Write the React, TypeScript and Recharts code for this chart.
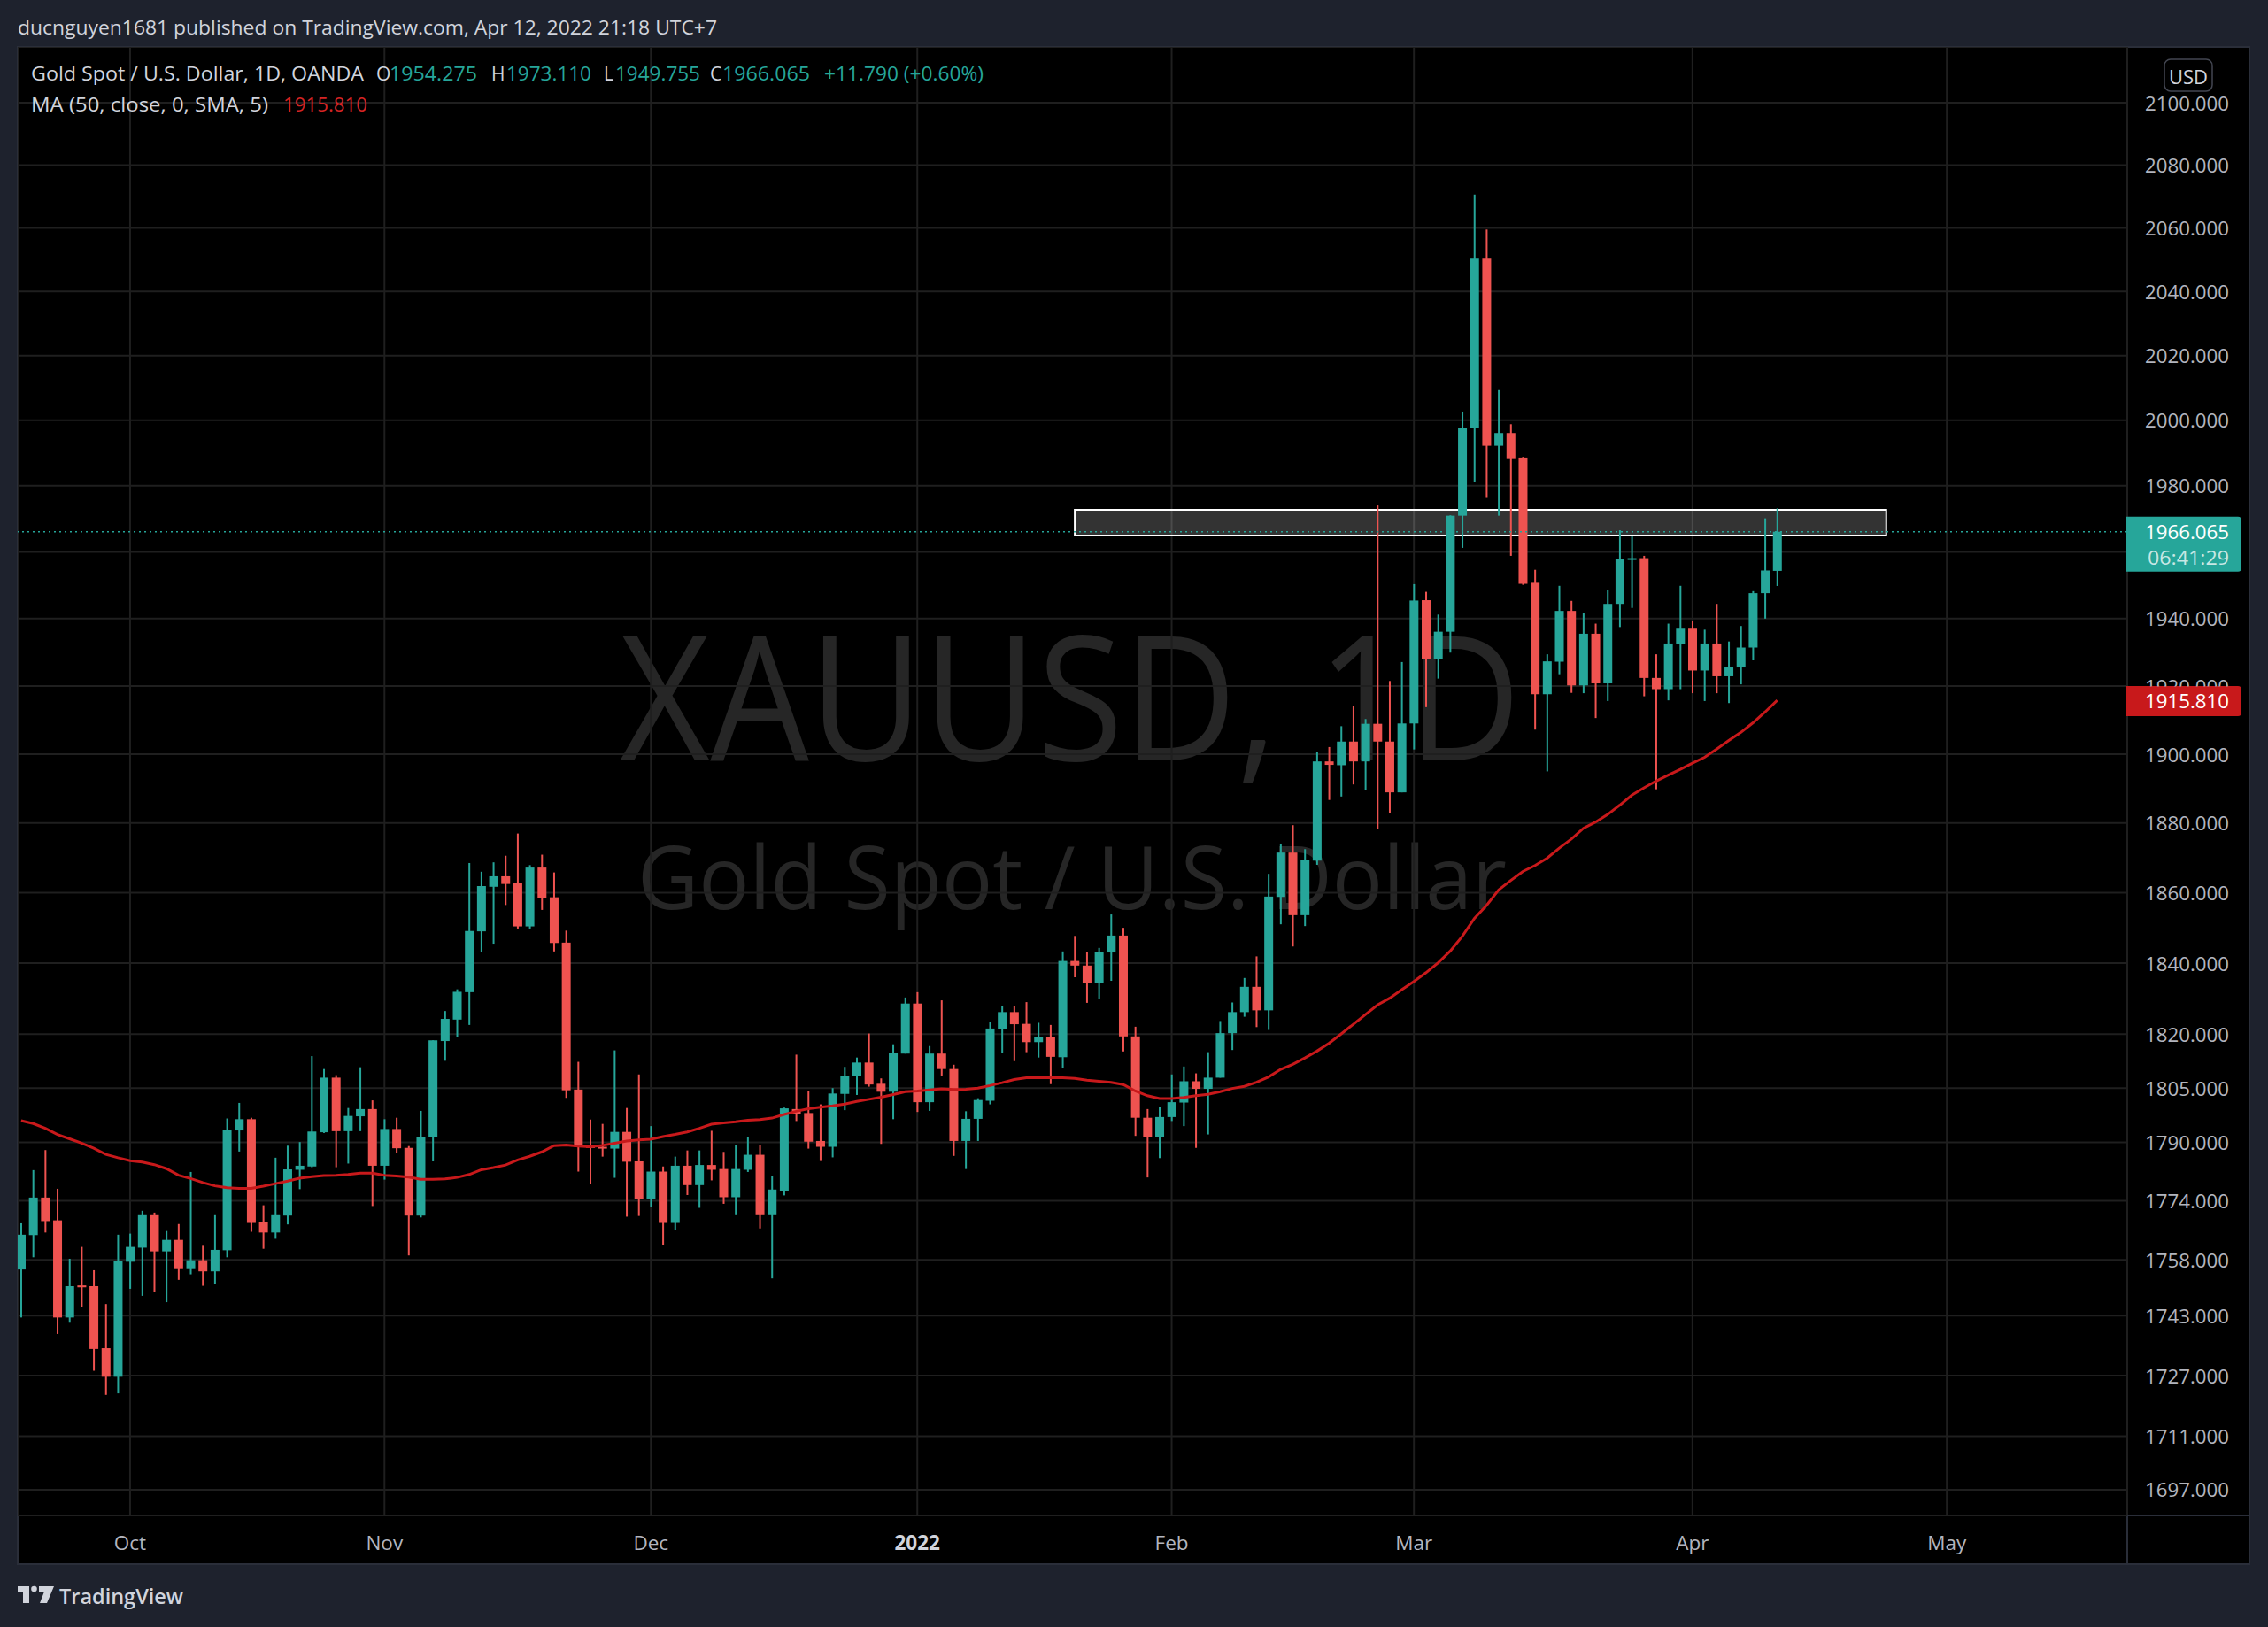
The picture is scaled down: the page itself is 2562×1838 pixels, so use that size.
import React from 'react';
import {
  Bar,
  CartesianGrid,
  ComposedChart,
  Line,
  ReferenceArea,
  ReferenceLine,
  XAxis,
  YAxis,
} from 'recharts';

// daily bars, OANDA XAUUSD (Dec 24 has no bar)
const dates = [
  '2021-09-20', '2021-09-21', '2021-09-22', '2021-09-23', '2021-09-24', '2021-09-27', '2021-09-28', '2021-09-29', '2021-09-30',
  '2021-10-01', '2021-10-04', '2021-10-05', '2021-10-06', '2021-10-07', '2021-10-08', '2021-10-11', '2021-10-12', '2021-10-13',
  '2021-10-14', '2021-10-15', '2021-10-18', '2021-10-19', '2021-10-20', '2021-10-21', '2021-10-22', '2021-10-25', '2021-10-26',
  '2021-10-27', '2021-10-28', '2021-10-29',
  '2021-11-01', '2021-11-02', '2021-11-03', '2021-11-04', '2021-11-05', '2021-11-08', '2021-11-09', '2021-11-10', '2021-11-11',
  '2021-11-12', '2021-11-15', '2021-11-16', '2021-11-17', '2021-11-18', '2021-11-19', '2021-11-22', '2021-11-23', '2021-11-24',
  '2021-11-25', '2021-11-26', '2021-11-29', '2021-11-30',
  '2021-12-01', '2021-12-02', '2021-12-03', '2021-12-06', '2021-12-07', '2021-12-08', '2021-12-09', '2021-12-10', '2021-12-13',
  '2021-12-14', '2021-12-15', '2021-12-16', '2021-12-17', '2021-12-20', '2021-12-21', '2021-12-22', '2021-12-23', '2021-12-27',
  '2021-12-28', '2021-12-29', '2021-12-30', '2021-12-31',
  '2022-01-03', '2022-01-04', '2022-01-05', '2022-01-06', '2022-01-07', '2022-01-10', '2022-01-11', '2022-01-12', '2022-01-13',
  '2022-01-14', '2022-01-17', '2022-01-18', '2022-01-19', '2022-01-20', '2022-01-21', '2022-01-24', '2022-01-25', '2022-01-26',
  '2022-01-27', '2022-01-28', '2022-01-31',
  '2022-02-01', '2022-02-02', '2022-02-03', '2022-02-04', '2022-02-07', '2022-02-08', '2022-02-09', '2022-02-10', '2022-02-11',
  '2022-02-14', '2022-02-15', '2022-02-16', '2022-02-17', '2022-02-18', '2022-02-21', '2022-02-22', '2022-02-23', '2022-02-24',
  '2022-02-25', '2022-02-28',
  '2022-03-01', '2022-03-02', '2022-03-03', '2022-03-04', '2022-03-07', '2022-03-08', '2022-03-09', '2022-03-10', '2022-03-11',
  '2022-03-14', '2022-03-15', '2022-03-16', '2022-03-17', '2022-03-18', '2022-03-21', '2022-03-22', '2022-03-23', '2022-03-24',
  '2022-03-25', '2022-03-28', '2022-03-29', '2022-03-30', '2022-03-31',
  '2022-04-01', '2022-04-04', '2022-04-05', '2022-04-06', '2022-04-07', '2022-04-08', '2022-04-11', '2022-04-12',
];

const opens = [
  1755.4, 1764.7, 1774.9, 1768.7, 1742.5, 1751.1, 1750.9, 1734.3, 1726.7,
  1757.5, 1761.3, 1770.1, 1760.3, 1763.4, 1755.5, 1757.9, 1754.9, 1760.6, 1793.3, 1796.4, 1768.2, 1765.4, 1770.0, 1782.5, 1783.4, 1792.8, 1807.9, 1793.1, 1797.2, 1799.2,
  1783.6, 1793.7, 1788.5, 1770.0, 1791.5, 1818.1, 1824.1, 1831.8, 1849.0, 1861.7, 1864.7, 1862.7, 1850.4, 1867.2, 1858.7, 1845.8, 1804.6, 1789.1, 1788.8, 1788.3, 1792.9, 1784.8,
  1774.4, 1782.0, 1768.0, 1783.6, 1778.3, 1783.8, 1782.7, 1775.0, 1782.5, 1786.6, 1770.1, 1776.8, 1799.2, 1798.1, 1790.4, 1788.8, 1803.4, 1808.3, 1812.1, 1806.2, 1804.0, 1814.6,
  1828.6, 1801.1, 1814.6, 1810.3, 1790.4, 1796.5, 1801.5, 1821.5, 1826.2, 1822.9, 1817.8, 1819.2, 1813.6, 1840.6, 1839.3, 1834.4, 1843.0, 1847.8, 1819.4, 1796.8, 1791.6,
  1797.0, 1801.0, 1806.9, 1804.8, 1807.9, 1820.3, 1826.2, 1833.3, 1826.7, 1858.8, 1871.5, 1853.6, 1869.2, 1897.9, 1896.8, 1903.7, 1897.9, 1908.9, 1903.7, 1888.9,
  1909.0, 1945.5, 1928.1, 1936.1, 1970.9, 1997.6, 2050.3, 1992.2, 1996.1, 1988.6, 1950.7, 1917.6, 1927.2, 1942.3, 1920.2, 1935.5, 1920.8, 1944.4, 1957.6, 1958.1, 1922.4, 1919.1, 1932.4,
  1937.0, 1924.6, 1932.6, 1922.9, 1925.5, 1931.4, 1947.6, 1954.275,
];

const highs = [
  1767.9, 1782.4, 1787.9, 1777.3, 1758.3, 1761.5, 1755.2, 1746.1, 1764.8,
  1765.1, 1771.3, 1770.8, 1765.8, 1767.7, 1781.9, 1761.8, 1770.1, 1796.6, 1800.9, 1796.8, 1772.8, 1785.8, 1789.1, 1790.1, 1813.9, 1810.3, 1808.6, 1799.5, 1810.8, 1801.6,
  1796.4, 1796.8, 1789.0, 1798.7, 1818.3, 1826.5, 1832.6, 1868.5, 1866.0, 1868.7, 1870.6, 1877.0, 1867.9, 1870.9, 1865.8, 1849.2, 1812.3, 1796.3, 1795.1, 1815.5, 1799.5, 1808.8,
  1794.5, 1783.4, 1786.1, 1787.8, 1787.8, 1793.2, 1787.4, 1789.4, 1791.6, 1789.4, 1780.7, 1799.6, 1814.3, 1804.3, 1800.5, 1805.0, 1810.9, 1813.5, 1820.2, 1807.7, 1817.2, 1830.3,
  1831.8, 1816.7, 1829.5, 1811.5, 1798.6, 1802.2, 1823.5, 1828.0, 1828.0, 1829.0, 1823.2, 1822.6, 1843.3, 1847.7, 1843.1, 1844.3, 1853.8, 1850.0, 1822.1, 1799.2, 1799.7,
  1808.8, 1811.0, 1809.1, 1815.0, 1823.7, 1828.9, 1835.8, 1841.9, 1865.4, 1874.1, 1879.4, 1872.5, 1900.7, 1902.1, 1908.2, 1914.2, 1910.3, 1974.0, 1921.5, 1927.1,
  1950.3, 1948.0, 1941.2, 1971.0, 2002.7, 2070.6, 2059.5, 2009.3, 1998.8, 1988.8, 1954.6, 1929.4, 1949.8, 1945.3, 1941.6, 1938.5, 1948.5, 1966.5, 1964.7, 1958.8, 1929.4, 1938.5, 1949.8,
  1939.4, 1936.7, 1944.4, 1933.2, 1937.8, 1948.2, 1970.1, 1973.11,
];

const lows = [
  1742.5, 1758.7, 1765.4, 1738.1, 1741.1, 1745.4, 1728.3, 1721.9, 1722.3,
  1750.2, 1748.3, 1749.3, 1746.6, 1752.6, 1754.1, 1751.0, 1751.4, 1758.7, 1787.5, 1765.6, 1761.0, 1763.7, 1767.6, 1777.2, 1783.2, 1792.6, 1783.2, 1784.2, 1793.1, 1772.6,
  1779.8, 1787.1, 1759.2, 1769.5, 1784.8, 1812.6, 1819.3, 1822.6, 1843.1, 1845.5, 1856.5, 1849.8, 1849.8, 1855.1, 1843.3, 1802.3, 1782.0, 1778.5, 1786.1, 1780.3, 1769.7, 1769.9,
  1772.4, 1762.0, 1766.1, 1775.6, 1772.1, 1779.6, 1773.2, 1770.1, 1781.9, 1766.5, 1753.0, 1775.5, 1795.9, 1788.3, 1784.9, 1785.9, 1798.9, 1803.1, 1805.4, 1789.6, 1796.4, 1814.6,
  1798.4, 1798.7, 1808.5, 1786.3, 1782.7, 1790.4, 1800.5, 1814.8, 1812.5, 1815.0, 1813.5, 1806.1, 1810.5, 1836.0, 1828.8, 1829.8, 1835.0, 1815.2, 1791.8, 1780.4, 1785.7,
  1795.9, 1794.5, 1788.5, 1792.2, 1807.9, 1815.6, 1824.9, 1822.0, 1821.2, 1851.0, 1844.7, 1850.5, 1868.0, 1886.7, 1887.7, 1891.2, 1889.5, 1878.2, 1883.0, 1888.9,
  1901.4, 1913.8, 1922.2, 1929.9, 1961.2, 1981.1, 1976.3, 1970.9, 1958.8, 1950.1, 1907.2, 1895.0, 1923.5, 1918.0, 1917.9, 1910.6, 1915.6, 1937.5, 1943.2, 1917.0, 1889.8, 1915.8, 1919.1,
  1917.9, 1915.6, 1917.9, 1915.0, 1920.5, 1927.6, 1940.0, 1949.755,
];

const closes = [
  1764.8, 1774.9, 1768.5, 1742.5, 1750.9, 1750.6, 1734.1, 1726.7, 1757.6,
  1761.5, 1770.1, 1760.3, 1763.4, 1755.5, 1757.9, 1754.9, 1760.7, 1793.5, 1796.4, 1768.0, 1765.4, 1770.1, 1782.6, 1783.6, 1793.0, 1807.9, 1793.1, 1797.3, 1799.2, 1783.6,
  1793.7, 1788.4, 1770.0, 1791.6, 1818.3, 1824.3, 1831.9, 1849.1, 1861.9, 1864.7, 1862.5, 1850.4, 1867.2, 1858.5, 1845.7, 1804.4, 1788.8, 1788.5, 1788.3, 1792.9, 1784.7, 1774.4,
  1782.0, 1768.0, 1783.6, 1778.3, 1783.8, 1782.5, 1775.0, 1782.7, 1786.6, 1770.1, 1777.1, 1799.4, 1797.9, 1790.2, 1788.8, 1803.5, 1808.4, 1812.1, 1806.0, 1804.0, 1814.8, 1828.6,
  1801.1, 1814.6, 1810.3, 1790.4, 1796.5, 1801.7, 1821.6, 1826.2, 1822.8, 1817.8, 1819.3, 1813.7, 1840.6, 1839.3, 1834.4, 1843.1, 1847.8, 1819.4, 1796.8, 1791.6, 1797.0,
  1801.1, 1806.9, 1804.8, 1807.9, 1820.3, 1826.2, 1833.3, 1826.7, 1858.9, 1871.5, 1853.6, 1869.3, 1897.9, 1896.9, 1903.7, 1897.9, 1908.9, 1903.7, 1888.9, 1909.0,
  1945.4, 1928.1, 1936.1, 1970.9, 1997.6, 2050.3, 1992.2, 1996.1, 1988.4, 1950.4, 1917.6, 1927.3, 1942.3, 1920.2, 1935.5, 1920.8, 1944.4, 1957.8, 1958.1, 1922.4, 1919.1, 1932.6, 1937.0,
  1924.6, 1932.6, 1922.9, 1925.5, 1931.4, 1947.6, 1954.4, 1966.065,
];

// MA (50, close, 0, SMA, 5)
const maValues = [
  1796.0, 1795.2, 1793.9, 1792.2, 1791.0, 1789.8, 1788.4, 1786.7, 1785.8,
  1785.0, 1784.6, 1783.9, 1782.8, 1781.0, 1780.1, 1779.0, 1778.1, 1777.6, 1777.4, 1777.4, 1778.0, 1778.7, 1779.4, 1780.2, 1780.6, 1780.9, 1781.0, 1781.2, 1781.6, 1781.6,
  1781.0, 1780.8, 1780.5, 1779.9, 1779.9, 1780.0, 1780.4, 1781.2, 1782.5, 1783.1, 1783.8, 1785.2, 1786.2, 1787.4, 1789.1, 1789.3, 1789.0, 1788.8, 1789.2, 1789.8, 1790.4, 1790.7,
  1790.9, 1791.6, 1792.2, 1792.9, 1793.9, 1795.0, 1795.4, 1795.7, 1796.1, 1796.3, 1796.7, 1797.7, 1798.6, 1799.3, 1799.7, 1800.1, 1800.6, 1801.3, 1801.9, 1802.5, 1803.2, 1804.0,
  1804.2, 1804.5, 1804.8, 1804.6, 1804.7, 1805.0, 1805.7, 1806.5, 1807.4, 1807.9, 1807.9, 1807.9, 1807.9, 1807.7, 1807.2, 1806.9, 1806.6, 1806.0, 1804.2, 1802.9, 1802.1,
  1802.1, 1802.4, 1802.9, 1803.3, 1804.0, 1804.9, 1805.5, 1806.6, 1808.1, 1810.2, 1811.6, 1813.4, 1815.3, 1817.5, 1820.1, 1822.8, 1825.5, 1828.2, 1830.1, 1832.5,
  1834.8, 1837.3, 1840.1, 1843.4, 1847.6, 1852.7, 1856.4, 1860.8, 1863.5, 1866.1, 1867.8, 1869.9, 1872.8, 1875.4, 1878.5, 1880.3, 1882.5, 1885.2, 1888.1, 1890.2, 1892.2, 1893.9, 1895.6,
  1897.4, 1899.1, 1901.5, 1904.0, 1906.4, 1909.2, 1912.4, 1915.81,
];

const priceTicks = [
  2100, 2080, 2060, 2040, 2020, 2000, 1980, 1960, 1940, 1920, 1900, 1880, 1860, 1840,
  1820, 1805, 1790, 1774, 1758, 1743, 1727, 1711, 1697,
];
// tick labels that sit under the price tags on the right scale
const hiddenTickLabels = [1960];
const halfHiddenTickLabels = [1920];
// bar index of each month start (May is in the empty future space)
const monthTickIndex = [9, 30, 52, 74, 95, 115, 138, 159];
const monthLabels = ['Oct', 'Nov', 'Dec', '2022', 'Feb', 'Mar', 'Apr', 'May'];

const lastPrice = 1966.065;
const lastMa = 1915.81;
const countdown = '06:41:29';
// resistance box drawn on the chart
const zoneStart = 87;
const zoneEnd = 154;
const zoneLow = 1964.9;
const zoneHigh = 1972.7;

const TEAL = '#26a69a';
const RED = '#ef5350';
const MA_RED = '#c8191b';
const GRID = '#1f1f1f';
const FRAME = '#2a2e39';
const AXIS_TEXT = '#b2b5be';
const LIGHT = '#d1d4dc';
const FONT = '"Open Sans", "Noto Sans", Roboto, sans-serif';

const CHART_LEFT = 20;
const CHART_TOP = 53;
const CHART_W = 2521;
const CHART_H = 1714;
const BODY_W = 10;

const Candle = (props: any) => {
  const { x, y, width, height, payload } = props;
  if (x == null || !payload) return null;
  const { open, close, high, low } = payload;
  const color = close >= open ? TEAL : RED;
  const span = Math.log(high) - Math.log(low);
  const toY = (v: number) => (span > 0 ? y + (height * (Math.log(high) - Math.log(v))) / span : y);
  const cx = x + width / 2;
  const top = toY(Math.max(open, close));
  const bottom = toY(Math.min(open, close));
  return (
    <g>
      <rect x={cx - 1} y={y} width={2} height={Math.max(height, 1)} fill={color} />
      <rect x={cx - BODY_W / 2} y={top} width={BODY_W} height={Math.max(bottom - top, 2)} fill={color} />
    </g>
  );
};

const PriceTick = (props: any) => {
  const { x, y, payload } = props;
  const v = Number(payload.value);
  if (hiddenTickLabels.includes(v)) return <g />;
  const half = halfHiddenTickLabels.includes(v);
  const clipId = `tick-clip-${v}`;
  return (
    <g>
      {half && (
        <defs>
          <clipPath id={clipId}>
            <rect x={x} y={y - 20} width={130} height={20.5} />
          </clipPath>
        </defs>
      )}
      <text
        x={x + 115}
        y={y}
        textAnchor="end"
        dominantBaseline="central"
        fill={AXIS_TEXT}
        fontSize={22.5}
        fontFamily={FONT}
        textLength={95}
        lengthAdjust="spacingAndGlyphs"
        clipPath={half ? `url(#${clipId})` : undefined}
      >
        {v.toFixed(3)}
      </text>
    </g>
  );
};

const MonthTick = (props: any) => {
  const { x, y, payload } = props;
  const label = monthLabels[monthTickIndex.indexOf(payload.value)];
  const isYear = label === '2022';
  return (
    <text
      x={x}
      y={y + 30}
      textAnchor="middle"
      dominantBaseline="central"
      fill={isYear ? LIGHT : AXIS_TEXT}
      fontWeight={isYear ? 700 : 400}
      fontSize={22.5}
      fontFamily={FONT}
    >
      {label}
    </text>
  );
};

const tagPath = (x: number, top: number, w: number, h: number, r: number) =>
  `M${x},${top} H${x + w - r} Q${x + w},${top} ${x + w},${top + r} V${top + h - r} Q${x + w},${top + h} ${x + w - r},${top + h} H${x} Z`;

const LastPriceTag = (props: any) => {
  const vb = props.viewBox;
  if (!vb) return null;
  const x = vb.x + vb.width - 1;
  const y = vb.y;
  return (
    <g>
      <path d={tagPath(x, y - 17, 130, 62, 4)} fill={TEAL} />
      <text x={x + 116} y={y} textAnchor="end" dominantBaseline="central" fill="#ffffff" fontSize={22.5} fontFamily={FONT} textLength={95} lengthAdjust="spacingAndGlyphs">
        {lastPrice.toFixed(3)}
      </text>
      <text x={x + 116} y={y + 29} textAnchor="end" dominantBaseline="central" fill="#ffffff" fillOpacity={0.75} fontSize={22.5} fontFamily={FONT} textLength={92} lengthAdjust="spacingAndGlyphs">
        {countdown}
      </text>
    </g>
  );
};

const MaTag = (props: any) => {
  const vb = props.viewBox;
  if (!vb) return null;
  const x = vb.x + vb.width - 1;
  const y = vb.y;
  return (
    <g>
      <path d={tagPath(x, y - 16, 130, 34, 4)} fill={MA_RED} />
      <text x={x + 116} y={y} textAnchor="end" dominantBaseline="central" fill="#ffffff" fontSize={22.5} fontFamily={FONT} textLength={95} lengthAdjust="spacingAndGlyphs">
        {lastMa.toFixed(3)}
      </text>
    </g>
  );
};

export default function App() {
  const rows = dates.map((date, i) => ({
    idx: i,
    date,
    open: opens[i],
    high: highs[i],
    low: lows[i],
    close: closes[i],
    range: [lows[i], highs[i]],
    ma: maValues[i],
  }));

  const txt = { fontFamily: FONT, dominantBaseline: 'central' as const };

  return (
    <div style={{ position: 'absolute', left: 0, top: 0, width: 2562, height: 1838, background: '#1e222d', overflow: 'hidden' }}>
      {/* behind the chart: pane, watermark, frame */}
      <svg width={2562} height={1838} style={{ position: 'absolute', left: 0, top: 0 }}>
        <rect x={CHART_LEFT} y={CHART_TOP} width={CHART_W} height={CHART_H} fill="#000000" />
        <text x={700} y={859} fontFamily={FONT} fontSize={196} fill="#262626" textLength={1018} lengthAdjust="spacingAndGlyphs">
          XAUUSD, 1D
        </text>
        <text x={720} y={1027} fontFamily={FONT} fontSize={98} fill="#262626" textLength={982} lengthAdjust="spacingAndGlyphs">
          Gold Spot / U.S. Dollar
        </text>
        <g stroke={FRAME} strokeWidth={2} fill="none">
          <rect x={CHART_LEFT} y={CHART_TOP} width={CHART_W} height={CHART_H} />
          <line x1={2403} y1={CHART_TOP} x2={2403} y2={CHART_TOP + CHART_H} />
          <line x1={CHART_LEFT} y1={1712} x2={CHART_LEFT + CHART_W} y2={1712} />
        </g>
      </svg>

      <div style={{ position: 'absolute', left: CHART_LEFT, top: CHART_TOP }}>
        <ComposedChart width={CHART_W} height={CHART_H} data={rows} margin={{ top: 0, right: 0, bottom: 0, left: 0 }}>
          <CartesianGrid stroke={GRID} strokeWidth={2} />
          <XAxis
            dataKey="idx"
            type="number"
            domain={[-0.28, 173.9]}
            allowDataOverflow
            ticks={monthTickIndex}
            interval={0}
            height={55}
            axisLine={false}
            tickLine={false}
            tickSize={0}
            tickMargin={0}
            tick={MonthTick}
          />
          <YAxis
            orientation="right"
            scale="log"
            domain={[1690.3, 2118.1]}
            allowDataOverflow
            ticks={priceTicks}
            interval={0}
            width={138}
            axisLine={false}
            tickLine={false}
            tickSize={0}
            tickMargin={0}
            tick={PriceTick}
          />
          <ReferenceArea
            x1={zoneStart}
            x2={zoneEnd}
            y1={zoneLow}
            y2={zoneHigh}
            fill="#ffffff"
            fillOpacity={0.2}
            stroke="#ffffff"
            strokeWidth={2}
            strokeOpacity={1}
          />
          <Bar dataKey="range" barSize={BODY_W} shape={(p: any) => <Candle {...p} />} isAnimationActive={false} />
          <Line
            type="linear"
            dataKey="ma"
            stroke={MA_RED}
            strokeWidth={3}
            dot={false}
            activeDot={false}
            isAnimationActive={false}
          />
          <ReferenceLine
            y={lastPrice}
            stroke={TEAL}
            strokeWidth={1.5}
            strokeDasharray="2 4"
            label={(p: any) => <LastPriceTag {...p} />}
          />
          <ReferenceLine y={lastMa} stroke="none" label={(p: any) => <MaTag {...p} />} />
        </ComposedChart>
      </div>

      {/* above the chart: header, legend, currency box, footer */}
      <svg width={2562} height={1838} style={{ position: 'absolute', left: 0, top: 0, pointerEvents: 'none' }}>
        <text x={20} y={31} {...txt} fontSize={21} fontWeight={500} fill={LIGHT} textLength={790} lengthAdjust="spacingAndGlyphs">
          ducnguyen1681 published on TradingView.com, Apr 12, 2022 21:18 UTC+7
        </text>

        <text x={35} y={83} {...txt} fontSize={21} fill={LIGHT} textLength={376} lengthAdjust="spacingAndGlyphs">
          Gold Spot / U.S. Dollar, 1D, OANDA
        </text>
        <text x={425} y={83} {...txt} fontSize={21} fill={LIGHT}>O</text>
        <text x={440} y={83} {...txt} fontSize={21} fill={TEAL} textLength={99} lengthAdjust="spacingAndGlyphs">1954.275</text>
        <text x={555} y={83} {...txt} fontSize={21} fill={LIGHT}>H</text>
        <text x={572} y={83} {...txt} fontSize={21} fill={TEAL} textLength={96} lengthAdjust="spacingAndGlyphs">1973.110</text>
        <text x={682} y={83} {...txt} fontSize={21} fill={LIGHT}>L</text>
        <text x={695} y={83} {...txt} fontSize={21} fill={TEAL} textLength={96} lengthAdjust="spacingAndGlyphs">1949.755</text>
        <text x={802} y={83} {...txt} fontSize={21} fill={LIGHT}>C</text>
        <text x={816} y={83} {...txt} fontSize={21} fill={TEAL} textLength={99} lengthAdjust="spacingAndGlyphs">1966.065</text>
        <text x={931} y={83} {...txt} fontSize={21} fill={TEAL} textLength={180} lengthAdjust="spacingAndGlyphs">+11.790 (+0.60%)</text>
        <text x={35} y={118} {...txt} fontSize={21} fill={LIGHT} textLength={268} lengthAdjust="spacingAndGlyphs">
          MA (50, close, 0, SMA, 5)
        </text>
        <text x={320} y={118} {...txt} fontSize={21} fill="#d42424" textLength={95} lengthAdjust="spacingAndGlyphs">1915.810</text>

        <rect x={2445} y={67} width={54} height={36} rx={7} fill="#000000" stroke="#434651" strokeWidth={1.5} />
        <text x={2472} y={86} {...txt} textAnchor="middle" fontSize={22} fill={LIGHT}>USD</text>

        <g fill={LIGHT}>
          <rect x={20} y={1792} width={13} height={6} />
          <rect x={26} y={1792} width={7} height={19} />
          <circle cx={38.5} cy={1795} r={3.3} />
          <polygon points="44,1792 61,1792 53,1811 45,1811 50,1798 44,1798" />
        </g>
        <text x={67} y={1803} {...txt} fontSize={23} fontWeight={600} fill={LIGHT} textLength={140} lengthAdjust="spacingAndGlyphs">
          TradingView
        </text>
      </svg>
    </div>
  );
}
